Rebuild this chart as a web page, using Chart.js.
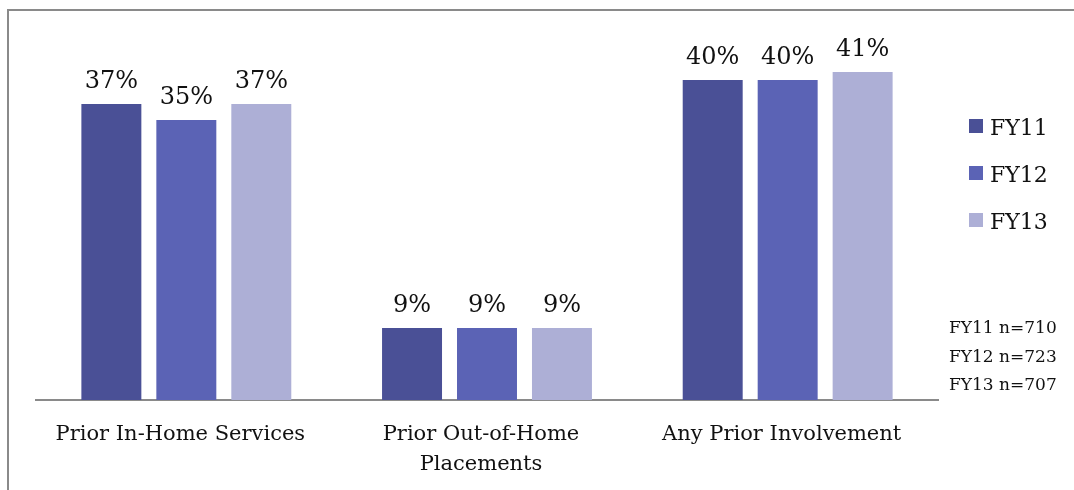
<!DOCTYPE html>
<html>
<head>
<meta charset="utf-8">
<script src="https://cdn.jsdelivr.net/npm/chart.js@4.4.1/dist/chart.umd.min.js"></script>
<style>
  html, body { margin: 0; padding: 0; background: #ffffff; }
  #wrap { width: 1074px; height: 490px; position: relative; }
</style>
</head>
<body>
<div id="wrap"><canvas id="chart" width="1074" height="490"></canvas></div>
<script>
// Share of cases with prior involvement, by fiscal year
const categories = ['Prior In-Home Services', ['Prior Out-of-Home', 'Placements'], 'Any Prior Involvement'];
const seriesNames = ['FY11', 'FY12', 'FY13'];
const fy11 = [37, 9, 40];
const fy12 = [35, 9, 40];
const fy13 = [37, 9, 41];
const sampleSizes = [710, 723, 707];
const seriesColors = ['#4a5096', '#5b63b5', '#adafd6'];

const serif = 'DejaVu Serif';

// Frame, percentage labels, legend and sample-size notes
const decorations = {
  id: 'decorations',
  beforeDraw(chart) {
    const ctx = chart.ctx;
    ctx.save();
    ctx.strokeStyle = '#8a8a8a';
    ctx.lineWidth = 2;
    ctx.strokeRect(8, 10, 2000, 2000);
    ctx.restore();
  },
  afterDatasetsDraw(chart) {
    const ctx = chart.ctx;
    ctx.save();
    ctx.fillStyle = '#111111';
    ctx.font = '24px "' + serif + '"';
    ctx.textAlign = 'center';
    ctx.textBaseline = 'alphabetic';
    chart.data.datasets.forEach((ds, i) => {
      const meta = chart.getDatasetMeta(i);
      meta.data.forEach((bar, j) => {
        ctx.fillText(ds.data[j] + '%', bar.x, bar.y - 16);
      });
    });

    // legend
    const lx = 969, ly = 119, step = 47;
    chart.data.datasets.forEach((ds, i) => {
      ctx.fillStyle = ds.backgroundColor;
      ctx.fillRect(lx, ly + i * step, 14, 14);
      ctx.fillStyle = '#111111';
      ctx.font = '22px "' + serif + '"';
      ctx.textAlign = 'left';
      ctx.fillText(ds.label, lx + 21, ly + 16 + i * step);
    });

    // sample sizes
    ctx.font = '17px "' + serif + '"';
    ctx.textAlign = 'left';
    ctx.fillStyle = '#111111';
    seriesNames.forEach((name, i) => {
      ctx.fillText(name + ' n=' + sampleSizes[i], 949, 333 + i * 28.5);
    });
    ctx.restore();
  }
};

new Chart(document.getElementById('chart'), {
  type: 'bar',
  data: {
    labels: categories,
    datasets: [
      { label: seriesNames[0], data: fy11, backgroundColor: seriesColors[0] },
      { label: seriesNames[1], data: fy12, backgroundColor: seriesColors[1] },
      { label: seriesNames[2], data: fy13, backgroundColor: seriesColors[2] }
    ]
  },
  options: {
    responsive: false,
    animation: false,
    devicePixelRatio: 1,
    layout: { padding: { left: 36, right: 136, top: 40, bottom: 0 } },
    datasets: {
      bar: { categoryPercentage: 0.748, barPercentage: 0.8, borderWidth: 0 }
    },
    plugins: {
      legend: { display: false },
      tooltip: { enabled: false }
    },
    scales: {
      x: {
        grid: { display: false },
        border: { display: true, color: '#8a8a8a', width: 2 },
        ticks: {
          color: '#111111',
          padding: 12,
          labelOffset: -6,
          maxRotation: 0,
          autoSkip: false,
          font: { family: serif, size: 21, lineHeight: 1.43 }
        },
        afterFit(scale) { scale.height = 90; }
      },
      y: {
        display: false,
        min: 0,
        max: 45
      }
    }
  },
  plugins: [decorations]
});
</script>
</body>
</html>
